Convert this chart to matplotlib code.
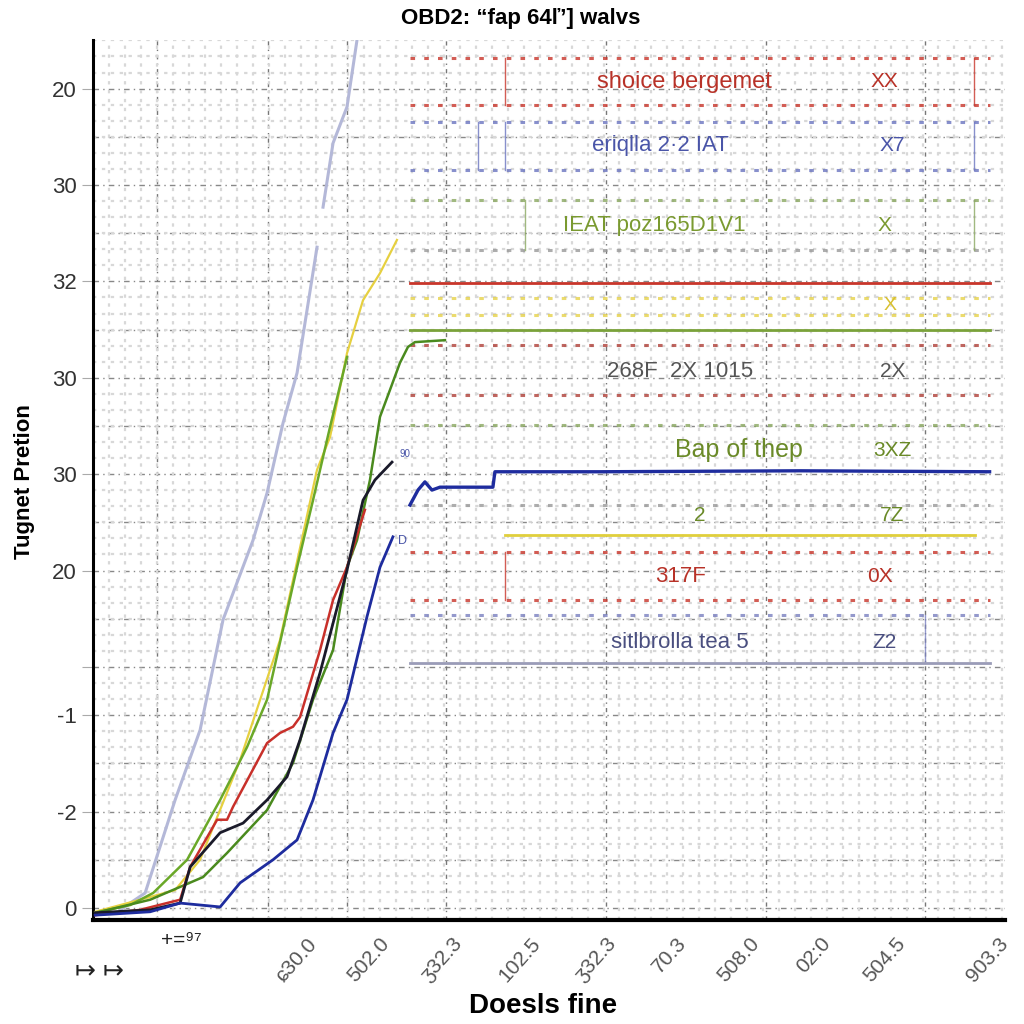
import numpy as np
import matplotlib
matplotlib.use("Agg")
import matplotlib.pyplot as plt
from matplotlib.ticker import MultipleLocator, FixedLocator

plt.rcParams['font.family'] = ['Liberation Sans', 'DejaVu Sans']

# ---------------- data ----------------
title = "OBD2: “fap 64ľ’] walvs"
xlabel = "Doesls fine"
ylabel = "Tugnet Pretion"

ytick_pos = [0, 2, 4, 5, 7, 9, 11, 13, 15, 17]
ytick_labels = ["0", "-2", "-1", "", "20", "30", "30", "32", "30", "20"]

xtick_pos = [23.3, 31.4, 39.4, 48.0, 56.3, 64.0, 72.0, 79.8, 88.0, 99.3]
xtick_labels = ["ɕ30.0", "502.0", "ʒ32.3", "102.5", "ʒ32.3", "70.3", "508.0", "02:0", "504.5", "903.3"]

lav_x = [2.96, 5.70, 8.99, 11.73, 14.25, 17.54, 19.08, 20.83, 22.37, 24.56, np.nan, 25.22, 26.32, 27.85, 28.95, 29.50]
lav_y = [-0.04, 0.31, 2.24, 3.69, 5.98, 7.63, 8.61, 10.06, 11.10, 13.71, np.nan, 14.54, 15.87, 16.62, 18.01, 18.63]

yel_x = [0.22, 5.15, 8.99, 11.73, 16.12, 20.50, 24.56, 25.99, 27.85, 29.61, 31.47, 33.33]
yel_y = [-0.08, 0.17, 0.37, 1.00, 3.07, 5.56, 9.09, 9.77, 11.51, 12.61, 13.17, 13.86]

grn_x = [0.22, 4.06, 6.58, 10.31, 13.93, 16.89, 19.08, 22.37, 24.12, 25.99, 27.85]
grn_y = [-0.10, 0.06, 0.31, 1.00, 2.24, 3.34, 4.32, 7.07, 8.46, 9.98, 11.43]

dgr_x = [0.77, 6.25, 12.06, 14.69, 19.08, 21.93, 24.12, 26.32, 27.85, 28.95, 30.37, 31.47, 32.57, 33.66, 34.54, 35.31, 38.60]
dgr_y = [-0.08, 0.17, 0.64, 1.14, 2.03, 3.01, 4.32, 5.35, 7.07, 7.63, 8.88, 10.19, 10.75, 11.31, 11.64, 11.74, 11.78]

blk_x = [0.22, 6.25, 9.54, 10.64, 13.93, 16.45, 19.08, 21.27, 22.70, 24.89, 27.85, 29.61, 30.92, 32.79]
blk_y = [-0.10, -0.04, 0.10, 0.85, 1.56, 1.76, 2.24, 2.72, 3.49, 4.88, 7.01, 8.46, 8.88, 9.25]

red_x = [0.22, 5.15, 9.54, 10.64, 13.60, 14.69, 15.35, 19.08, 20.50, 21.93, 22.70, 24.89, 26.32, 27.85, 29.82]
red_y = [-0.15, -0.04, 0.17, 0.85, 1.83, 1.83, 2.10, 3.42, 3.63, 3.76, 3.96, 5.35, 6.39, 7.07, 8.26]

blu_x = [0.22, 6.25, 9.54, 13.93, 16.12, 19.74, 22.37, 24.12, 26.32, 27.85, 30.04, 31.47, 32.89]
blu_y = [-0.15, -0.08, 0.10, 0.02, 0.52, 1.00, 1.41, 2.24, 3.63, 4.32, 6.04, 7.07, 7.70]

blu2_x = [34.76, 35.64, 36.40, 37.17, 38.05, 41.34, 43.86, 44.08, 55.59, 77.52, 98.36]
blu2_y = [8.36, 8.67, 8.84, 8.67, 8.73, 8.73, 8.73, 9.05, 9.05, 9.07, 9.05]

# horizontal reference levels on the right side
ref_levels = [12.97, 11.99, 7.74, 5.08]
ref_x0 = [34.76, 34.76, 45.18, 34.76]
ref_x1 = [98.36, 98.36, 96.71, 98.36]
ref_colors = ["#c8352a", "#7aa23a", "#e0cf3c", "#9a9cb8"]

# dotted legend-like rows
dot_rows = [17.63, 16.66, 16.31, 15.31, 14.69, 13.65, 12.66, 12.30, 11.68, 10.64, 10.02, 8.36, 7.39, 6.39, 6.08]
dot_colors = ["#c8352a", "#c8352a", "#6a74c0", "#6a74c0", "#8aa860", "#999999", "#e6d24a", "#e6d24a",
              "#b04038", "#b04038", "#8aa860", "#999999", "#c8352a", "#c8352a", "#7a80c0"]

row_texts = ["shoice bergemet", "eriqlla 2·2 IAT", "IEAT poz165D1V1", "268F  2X 1015", "Bap of thep", "2", "317F", "sitlbrolla tea 5"]
row_codes = ["XX", "X7", "X", "2X", "3XZ", "7Z", "0X", "Z2"]
row_y = [17.14, 15.81, 14.15, 11.12, 9.50, 8.15, 6.87, 5.50]
row_tx = [64.9, 62.2, 61.6, 64.4, 70.9, 66.6, 64.4, 64.4]
row_cx = [86.8, 87.7, 86.8, 87.7, 87.7, 87.7, 86.3, 86.8]
row_colors = ["#b83228", "#4a55a8", "#7a9a30", "#555555", "#6a8a28", "#6a8a28", "#b83228", "#4a4f80"]
row_sizes = [17, 16, 16, 16, 18, 15, 16, 16]

# ---------------- figure ----------------
fig = plt.figure(figsize=(10.24, 10.24), dpi=100)
ax = fig.add_axes([0.091, 0.1016, 0.890, 0.8594])
ax.set_xlim(0, 100)
ax.set_ylim(-0.25, 18.01)

# grids
ax.xaxis.set_minor_locator(MultipleLocator(1.75))
ax.yaxis.set_minor_locator(MultipleLocator(1/3))
ax.grid(which='minor', color='#d8d8d8', linestyle=(0, (1.5, 2.5)), linewidth=1.6, zorder=0)
for yv in range(0, 18):
    ax.axhline(yv, color='#888888', linestyle=(0, (4, 3, 1, 3)), linewidth=1.0, zorder=1)
for xv in [7.0, 19.2, 27.85, 38.7, 56.25, 73.8, 91.3]:
    ax.axvline(xv, color='#777777', linestyle=(0, (3, 3, 1, 3)), linewidth=1.0, zorder=1)

# dotted legend rows
for yv, c in zip(dot_rows, dot_colors):
    ax.plot([34.76, 98.36], [yv, yv], color=c, linestyle=(0, (1.5, 3)), linewidth=2.2, alpha=0.8, zorder=2)
# box verticals
for xv, y0, y1, c in [(45.2, 16.66, 17.63, "#c8352a"), (96.7, 16.66, 17.63, "#c8352a"),
                      (42.2, 15.31, 16.31, "#6a74c0"), (45.2, 15.31, 16.31, "#6a74c0"), (96.7, 15.31, 16.31, "#6a74c0"),
                      (47.4, 13.65, 14.69, "#8aa860"), (96.7, 13.65, 14.69, "#8aa860"),
                      (45.2, 6.39, 7.39, "#c8352a"), (91.3, 5.1, 6.08, "#7a80c0")]:
    ax.plot([xv, xv], [y0, y1], color=c, linewidth=1.0, alpha=0.8, zorder=2)

# reference levels
for yv, x0, x1, c in zip(ref_levels, ref_x0, ref_x1, ref_colors):
    ax.plot([x0, x1], [yv, yv], color=c, linewidth=2.0, zorder=3)

# data curves
ax.plot(lav_x, lav_y, color='#b4b8d8', linewidth=2.2, zorder=4)
ax.plot(yel_x, yel_y, color='#e6d040', linewidth=1.6, zorder=4)
ax.plot(grn_x, grn_y, color='#6aa828', linewidth=1.8, zorder=5)
ax.plot(dgr_x, dgr_y, color='#4a8a1e', linewidth=1.8, zorder=5)
ax.plot(red_x, red_y, color='#c8302a', linewidth=1.8, zorder=5)
ax.plot(blk_x, blk_y, color='#1a1a2a', linewidth=2.0, zorder=6)
ax.plot(blu_x, blu_y, color='#1e2c9e', linewidth=2.0, zorder=6)
ax.plot(blu2_x, blu2_y, color='#1e2c9e', linewidth=2.4, zorder=6)

ax.text(33.6, 9.35, "90", fontsize=7, color='#4a55a8', zorder=7)
ax.text(33.4, 7.55, "D", fontsize=9, color='#4a55a8', zorder=7)

# row texts
for t, c, x, cx, y, col, s in zip(row_texts, row_codes, row_tx, row_cx, row_y, row_colors, row_sizes):
    ax.text(x, y, t, color=col, fontsize=s, ha='center', va='center', zorder=8)
    ax.text(cx, y, c, color=col, fontsize=15, ha='center', va='center', zorder=8)
ax.text(87.4, 12.51, "X", color='#d8c030', fontsize=14, ha='center', va='center', zorder=8)

# axes styling
for s in ['top', 'right']:
    ax.spines[s].set_visible(False)
ax.spines['left'].set_linewidth(2.2)
ax.spines['bottom'].set_linewidth(3.0)
ax.yaxis.set_major_locator(FixedLocator(ytick_pos))
ax.set_yticklabels(ytick_labels, fontsize=16, color='#333333')
ax.tick_params(axis='y', which='major', length=8, color='#aaaaaa', pad=4)
ax.tick_params(axis='y', which='minor', length=0)
ax.xaxis.set_major_locator(FixedLocator(xtick_pos))
ax.set_xticklabels(xtick_labels, fontsize=15, color='#555555', rotation=48,
                   ha='right', rotation_mode='anchor')
ax.tick_params(axis='x', which='major', length=0, pad=10)
ax.tick_params(axis='x', which='minor', length=0)

fig.text(0.508, 0.982, title, ha='center', va='center', fontsize=16, fontweight='bold')
fig.text(0.530, 0.018, xlabel, ha='center', va='center', fontsize=20, fontweight='bold')
fig.text(0.024, 0.53, ylabel, ha='center', va='center', fontsize=16, fontweight='bold', rotation=90)
fig.text(0.157, 0.076, "+=⁹⁷", fontsize=15, color='#222222')
fig.text(0.073, 0.045, "↦ ↦", fontsize=18, color='#222222')

fig.savefig("out.png", dpi=100)
